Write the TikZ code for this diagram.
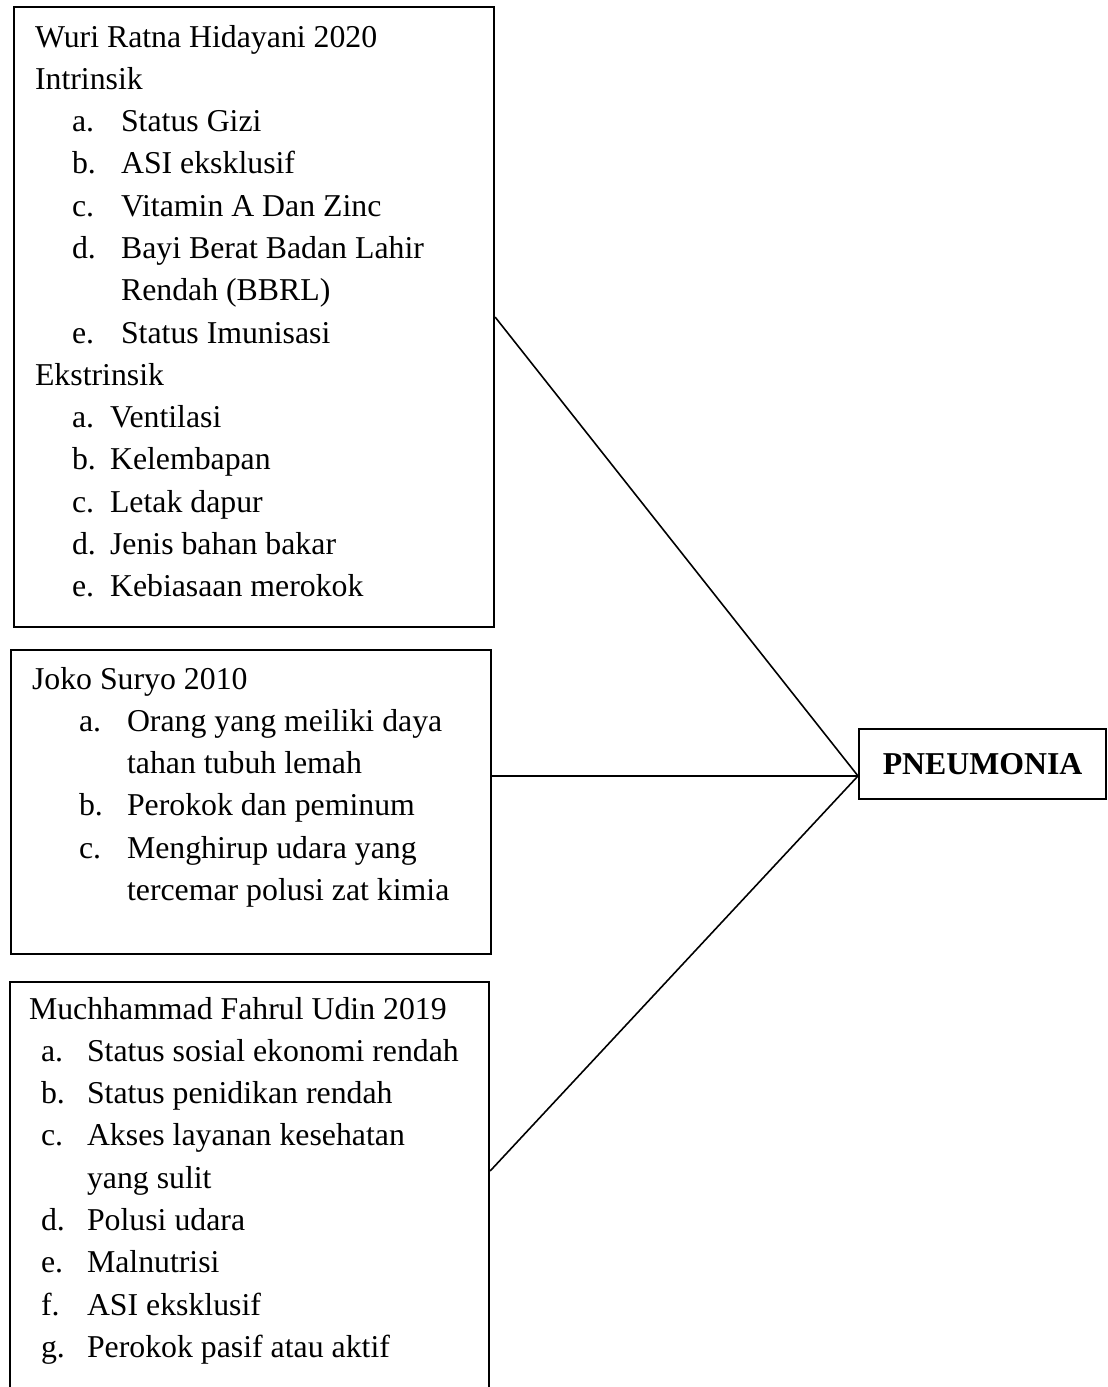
\documentclass[tikz,border=0pt]{standalone}
\usepackage{fontspec}
\setmainfont{Liberation Serif}

\newdimen\px \px=0.3774pt
\newlength{\lblin}
\newlength{\lblw}
\newcommand{\itm}[1]{\hspace*{\lblin}\makebox[\lblw][l]{#1}}
\newcommand{\cnt}{\hspace*{\lblin}\hspace*{\lblw}}
% width, height, left pad, first baseline, text
\newcommand{\boxbody}[5]{%
  \begin{minipage}[c][#2][t]{#1}\raggedright\leftskip=#3\rule{0pt}{#4}#5\end{minipage}}

\begin{document}
\begin{tikzpicture}
  [x=0.3774pt, y=-0.3774pt,
   factor/.style={draw, line width=0.8pt, inner sep=0pt, anchor=north west,
         font=\fontsize{12}{15.96}\selectfont},
   result/.style={draw, line width=0.8pt, inner sep=0pt, anchor=north west,
         minimum width=93.2pt, minimum height=26.4pt,
         font=\fontsize{12}{15.96}\selectfont\bfseries}
  ]
  \useasboundingbox (0,0) rectangle (1107,1387);
 \path
   (12.5,6) node (wuri) [factor] {\boxbody{480.5\px}{620\px}{21.5\px}{40\px}{%
     \setlength{\lblin}{37\px}\setlength{\lblw}{49\px}%
     Wuri Ratna Hidayani 2020\\
     Intrinsik\\
     \itm{a.}Status Gizi\\
     \itm{b.}ASI eksklusif\\
     \itm{c.}Vitamin A Dan Zinc\\
     \itm{d.}Bayi Berat Badan Lahir\\
     \cnt Rendah (BBRL)\\
     \itm{e.}Status Imunisasi\\
     Ekstrinsik\\
     \setlength{\lblw}{38\px}%
     \itm{a.}Ventilasi\\
     \itm{b.}Kelembapan\\
     \itm{c.}Letak dapur\\
     \itm{d.}Jenis bahan bakar\\
     \itm{e.}Kebiasaan merokok}}
  ++(-2.5,643) node (joko) [factor] {\boxbody{480\px}{304\px}{21\px}{39\px}{%
     \setlength{\lblin}{47\px}\setlength{\lblw}{48\px}%
     Joko Suryo 2010\\
     \itm{a.}Orang yang meiliki daya\\
     \cnt tahan tubuh lemah\\
     \itm{b.}Perokok dan peminum\\
     \itm{c.}Menghirup udara yang\\
     \cnt tercemar polusi zat kimia}}
  ++(-1,332) node (udin) [factor] {\boxbody{479\px}{430\px}{19\px}{37\px}{%
     \setlength{\lblin}{12\px}\setlength{\lblw}{46\px}%
     Muchhammad Fahrul Udin 2019\\
     \itm{a.}Status sosial ekonomi rendah\\
     \itm{b.}Status penidikan rendah\\
     \itm{c.}Akses layanan kesehatan\\
     \cnt yang sulit\\
     \itm{d.}Polusi udara\\
     \itm{e.}Malnutrisi\\
     \itm{f.}ASI eksklusif\\
     \itm{g.}Perokok pasif atau aktif}}
   (858,728) node (pneu) [result] {PNEUMONIA};

  \coordinate (hub) at ([yshift=-4.5pt]pneu.west);
  \coordinate (tail) at ([yshift=-71.7pt]udin.north east);
   \begin{scope}[line width=0.6pt]
   \draw (wuri.east) to (hub);
   \draw (joko.east |- hub) to (hub);
   \draw (tail) to (hub);
   \end{scope}

\end{tikzpicture}
\end{document}
